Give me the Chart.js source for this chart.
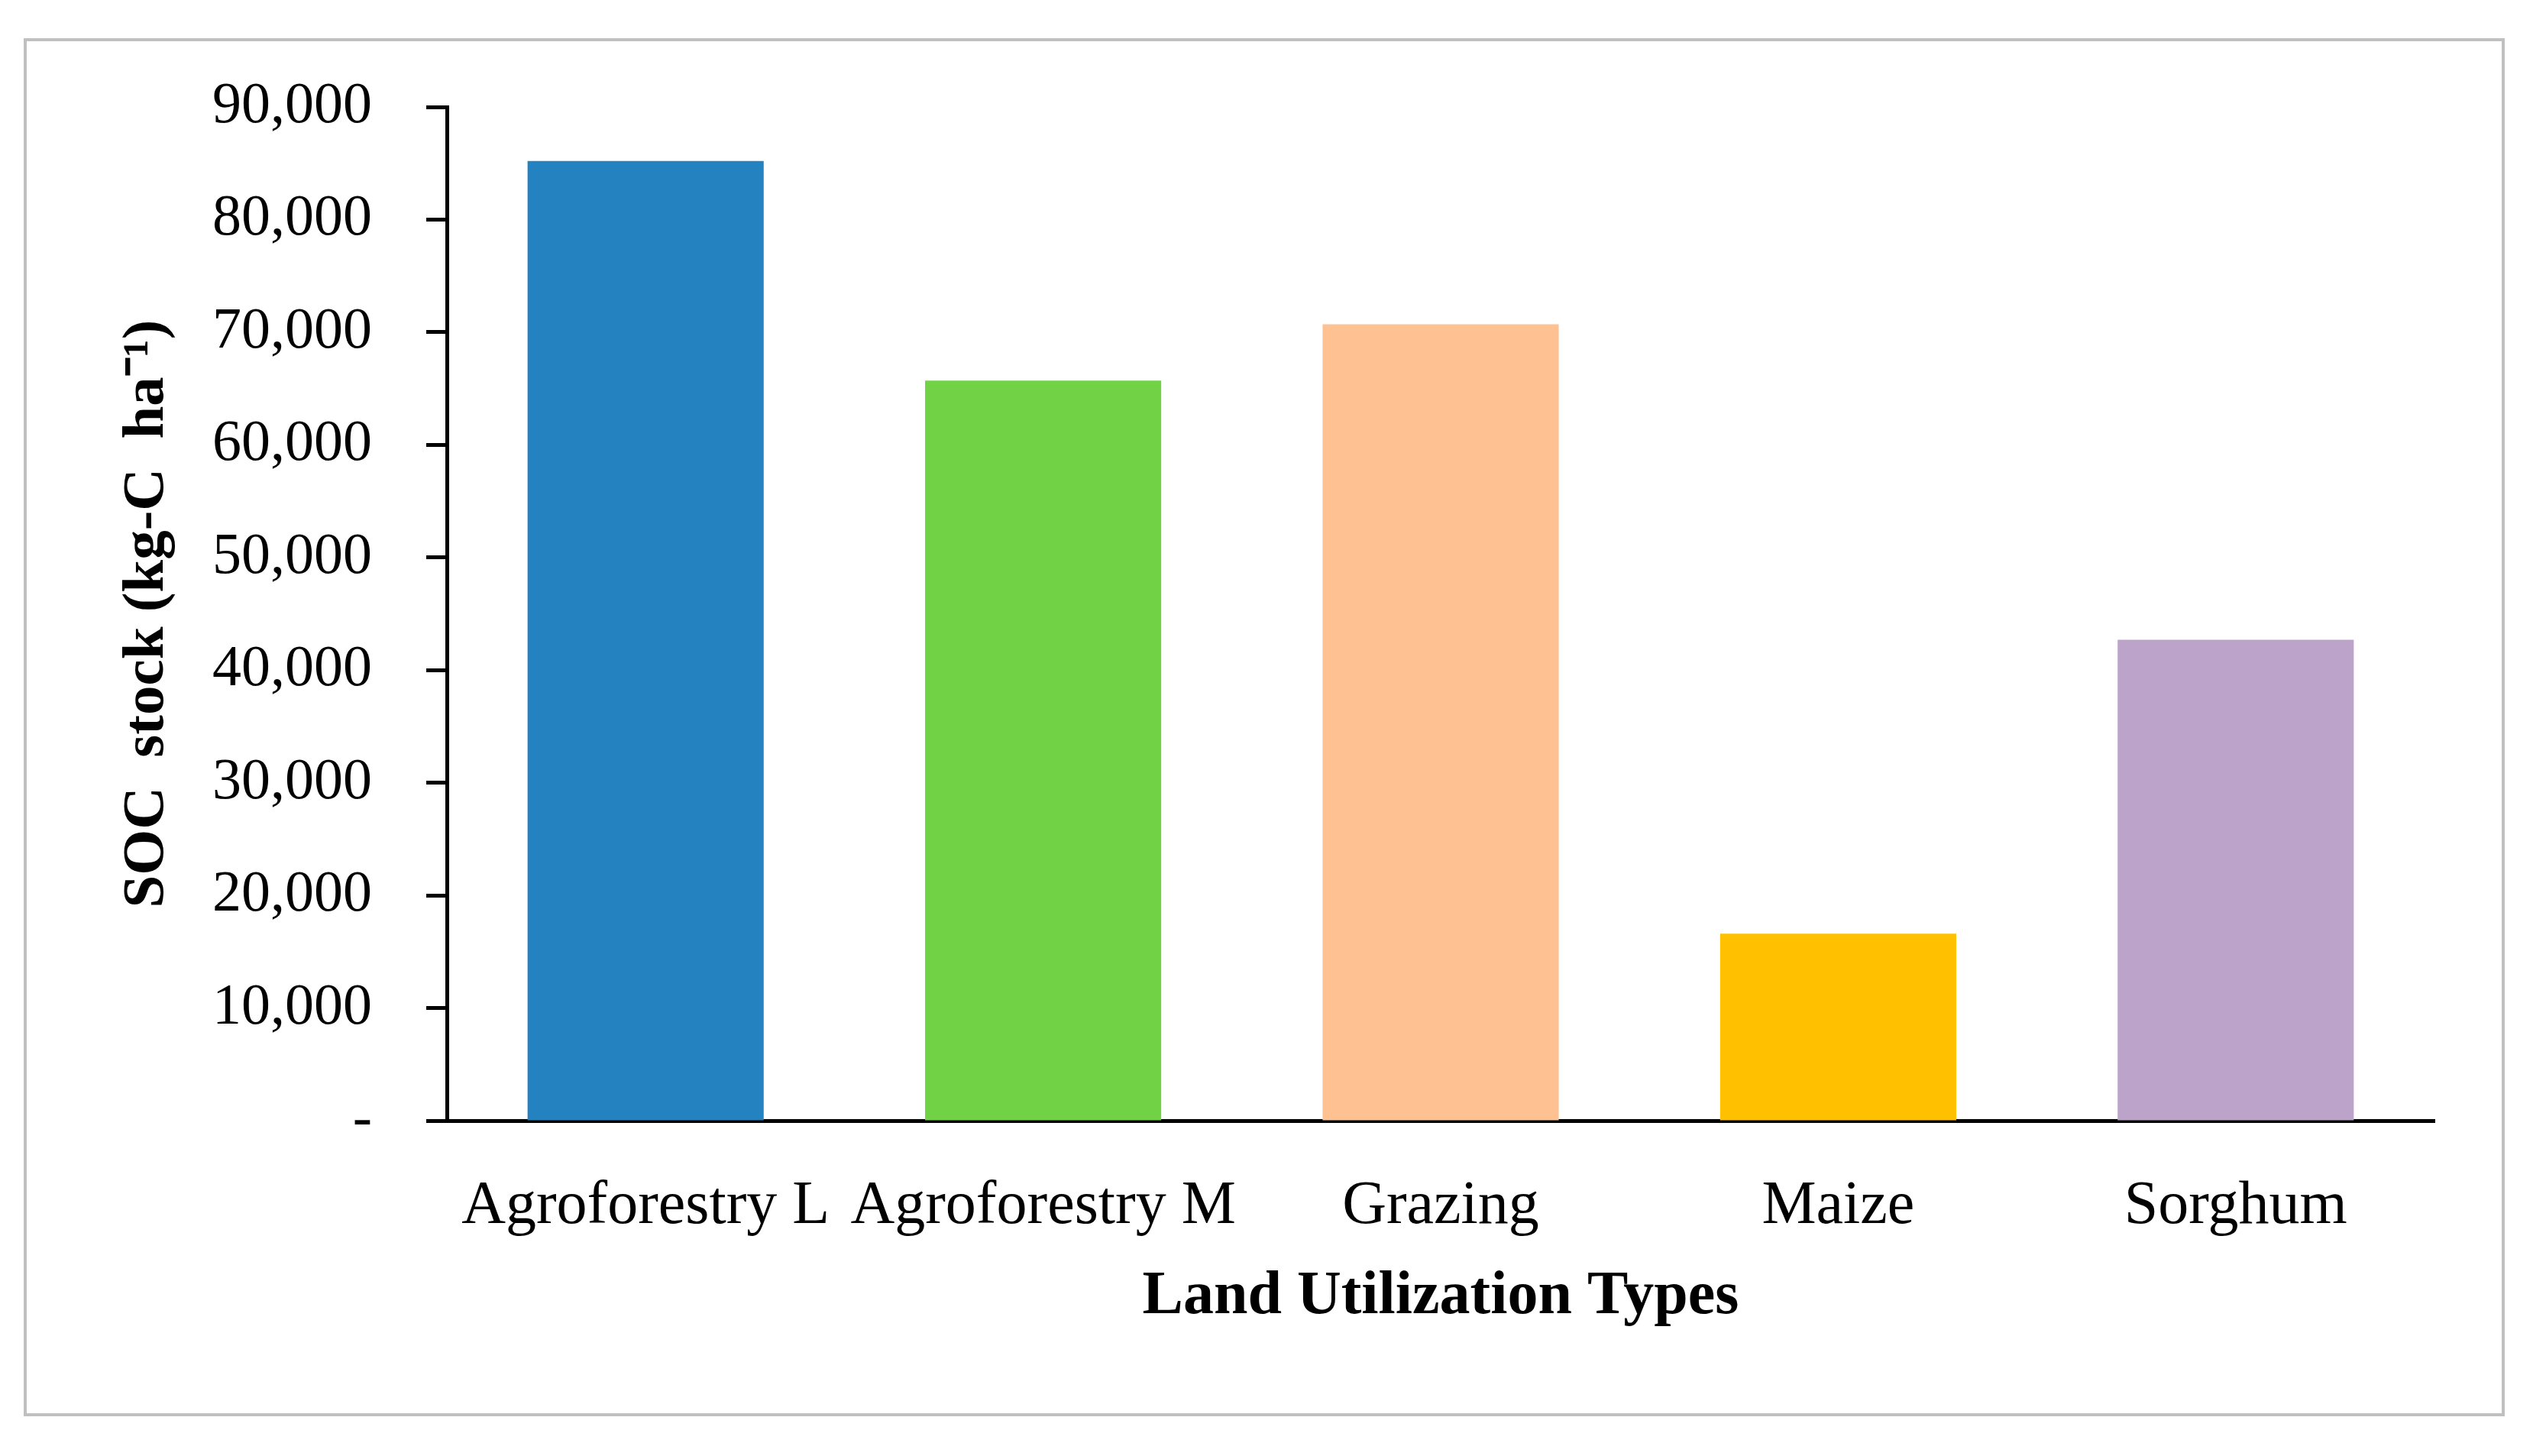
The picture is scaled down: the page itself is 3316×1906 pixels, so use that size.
<!DOCTYPE html>
<html>
<head>
<meta charset="utf-8">
<script src="https://cdn.jsdelivr.net/npm/chart.js@4.4.1/dist/chart.umd.min.js"></script>
<style>
    html, body { margin: 0; padding: 0; background: #ffffff; }
    #wrap { position: relative; width: 3316px; height: 1906px; }
    #frame {
        position: absolute; left: 31px; top: 50px;
        width: 3240px; height: 1796px;
        border: 4px solid #c0c0c0; pointer-events: none;
    }
</style>
</head>
<body>
<div id="wrap">
    <canvas id="socChart" width="3316" height="1906"></canvas>
    <div id="frame"></div>
</div>
<script>
const landTypes = ['Agroforestry L', 'Agroforestry M', 'Grazing', 'Maize', 'Sorghum'];
const socStock = [85200, 65700, 70700, 16600, 42700];
const barColors = ['#2582C0', '#71D246', '#FEC192', '#FFC000', '#BCA3CA'];
const yTicks = [0, 10000, 20000, 30000, 40000, 50000, 60000, 70000, 80000, 90000];

const serif = '"Liberation Serif", "Times New Roman", serif';

function createChart() {
    const ctx = document.getElementById('socChart').getContext('2d');
    return new Chart(ctx, {
        type: 'bar',
        data: {
            labels: landTypes,
            datasets: [{
                label: 'SOC stock',
                data: socStock,
                backgroundColor: barColors,
                borderWidth: 0,
                categoryPercentage: 1,
                barPercentage: 0.594
            }]
        },
        options: {
            responsive: false,
            devicePixelRatio: 1,
            animation: false,
            layout: {
                padding: { top: 140, right: 129, left: 0, bottom: 0 }
            },
            plugins: {
                legend: { display: false },
                tooltip: { enabled: false }
            },
            scales: {
                x: {
                    afterFit: scale => { scale.height = 439; },
                    grid: { display: false },
                    border: { display: true, color: '#000000', width: 5 },
                    ticks: {
                        color: '#000000',
                        padding: 57,
                        maxRotation: 0,
                        autoSkip: false,
                        font: { family: serif, size: 80 }
                    },
                    title: {
                        display: true,
                        text: 'Land Utilization Types',
                        color: '#000000',
                        padding: { top: 0, bottom: 160 },
                        font: { family: serif, size: 80, weight: 'bold' }
                    }
                },
                y: {
                    min: 0,
                    max: 90000,
                    afterFit: scale => { scale.width = 585; },
                    afterBuildTicks: scale => {
                        scale.ticks = yTicks.map(v => ({ value: v }));
                    },
                    grid: {
                        display: true,
                        drawOnChartArea: false,
                        drawTicks: true,
                        tickLength: 27,
                        tickWidth: 5,
                        color: '#000000'
                    },
                    border: { display: true, color: '#000000', width: 5 },
                    ticks: {
                        color: '#000000',
                        padding: 71,
                        font: { family: serif, size: 76 },
                        callback: value => value === 0 ? '-' : value.toLocaleString('en-US')
                    },
                    title: {
                        display: true,
                        text: 'SOC  stock (kg-C  ha\u207B\u00B9)',
                        color: '#000000',
                        padding: { top: 147, bottom: 0 },
                        font: { family: serif, size: 77, weight: 'bold' }
                    }
                }
            }
        }
    });
}

createChart();
</script>
</body>
</html>
